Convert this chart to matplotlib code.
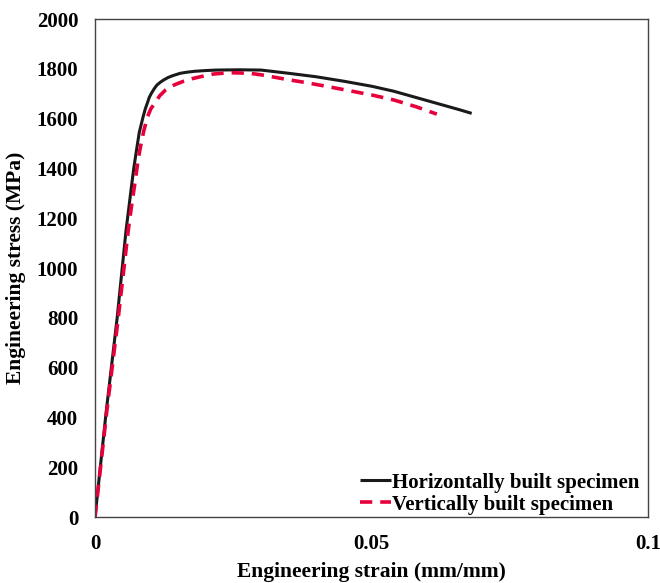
import numpy as np
import matplotlib
matplotlib.use("Agg")
import matplotlib.pyplot as plt

# tensile test curves, engineering strain (mm/mm) vs engineering stress (MPa)
strain_h = [0, 0.0020, 0.0040, 0.0056, 0.0066, 0.0070, 0.0075, 0.0080, 0.0087,
            0.0091, 0.0095, 0.0098, 0.0102, 0.0107, 0.0112, 0.0118, 0.0124,
            0.0132, 0.0140, 0.0154, 0.0165, 0.0180, 0.0200, 0.0220, 0.0260,
            0.0300, 0.0350, 0.0400, 0.0450, 0.0500, 0.0540, 0.0580, 0.0620,
            0.0660, 0.0681]
stress_h = [0, 420, 800, 1150, 1330, 1400, 1474, 1545, 1608,
            1640, 1665, 1685, 1702, 1720, 1735, 1746, 1755,
            1765, 1772, 1782, 1786, 1790, 1793, 1795, 1796,
            1795, 1782, 1768, 1750, 1730, 1710, 1685, 1660,
            1635, 1621]

strain_v = [0, 0.0021, 0.0042, 0.0060, 0.0066, 0.0072, 0.0077, 0.0081, 0.0088,
            0.0095, 0.0101, 0.0108, 0.0117, 0.0127, 0.0136, 0.0145, 0.0160,
            0.0175, 0.0190, 0.0214, 0.0230, 0.0250, 0.0280, 0.0300, 0.0340,
            0.0380, 0.0420, 0.0460, 0.0500, 0.0540, 0.0580, 0.0618]
stress_v = [0, 420, 800, 1150, 1250, 1340, 1420, 1474, 1550,
            1608, 1640, 1661, 1692, 1714, 1727, 1737, 1750,
            1760, 1768, 1779, 1782, 1784, 1782, 1776, 1760,
            1745, 1729, 1712, 1695, 1675, 1648, 1618]

xticks = [0, 0.05, 0.1]
xtick_labels = ["0", "0.05", "0.1"]
yticks = np.arange(0, 2001, 200)

plt.rcParams['font.family'] = ['Liberation Serif', 'DejaVu Serif']
plt.rcParams['font.weight'] = 'bold'

fig = plt.figure(figsize=(6.6, 5.83), dpi=100)
ax = fig.add_axes([0.144, 0.1132, 0.838, 0.8542])

ax.plot(strain_h, stress_h, color='#1a1a1a', lw=2.2, solid_capstyle='butt',
        solid_joinstyle='round', label='Horizontally built specimen')
ax.plot(strain_v, stress_v, color='#e8003d', lw=2.6, dashes=(3.4, 2.2),
        label='Vertically built specimen')

ax.set_xlim(0, 0.1)
ax.set_ylim(0, 2000)
ax.set_xticks(xticks)
ax.set_xticklabels(xtick_labels)
ax.set_yticks(yticks)
ax.tick_params(length=0, labelsize=15)
ax.tick_params(axis='x', pad=12)
ax.tick_params(axis='y', pad=12)

for s in ax.spines.values():
    s.set_color('#444444')
    s.set_linewidth(1.0)

ax.set_xlabel('Engineering strain (mm/mm)', fontsize=15.5, fontweight='bold', labelpad=6)
ax.set_ylabel('Engineering stress (MPa)', fontsize=15.5, fontweight='bold', labelpad=8)

leg = ax.legend(loc='lower right', bbox_to_anchor=(1.0, -0.012), frameon=False,
                fontsize=15, handlelength=1.5, handletextpad=0.05,
                labelspacing=0.1, borderaxespad=0.0)

fig.savefig('out.png', dpi=100)
